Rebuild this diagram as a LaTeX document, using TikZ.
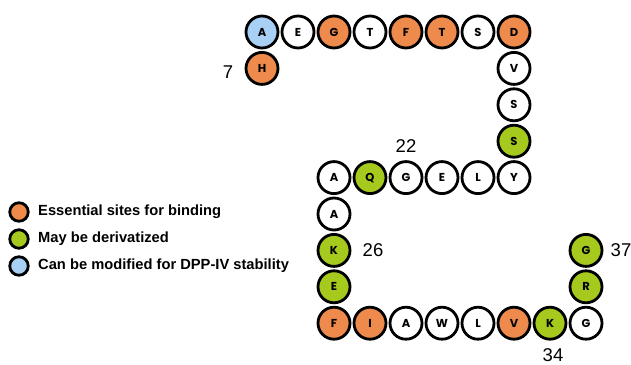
\documentclass[tikz,border=0pt]{standalone}
\usepackage{fontspec}
\setmainfont{Liberation Sans}
\newfontfamily\resfont{Poppins}
\definecolor{bindorange}{RGB}{238,138,76}
\definecolor{derivgreen}{RGB}{166,201,30}
\definecolor{dppblue}{RGB}{168,208,245}
\begin{document}
\begin{tikzpicture}[x=1pt,y=-1pt,
  res/.style={circle,draw=black,line width=2.8pt,minimum size=32pt,inner sep=0pt,
    font=\resfont\bfseries\fontsize{11.5}{11.5}\selectfont},
  keydot/.style={circle,draw=black,line width=2.8pt,minimum size=18.5pt,inner sep=0pt},
  keytext/.style={anchor=west,inner sep=0pt,font=\bfseries\fontsize{14.7}{16}\selectfont},
  posnum/.style={inner sep=0pt,font=\fontsize{18.5}{20}\selectfont}]
\useasboundingbox (0,0) rectangle (631,364);
\fill[white] (0,0) rectangle (631,364);

% peptide chain, residues 7--37, laid out on a grid
\foreach \n/\c/\r/\l/\f in {
  7/0/1/H/bindorange, 8/0/0/A/dppblue, 9/1/0/E/white, 10/2/0/G/bindorange,
  11/3/0/T/white, 12/4/0/F/bindorange, 13/5/0/T/bindorange, 14/6/0/S/white,
  15/7/0/D/bindorange, 16/7/1/V/white, 17/7/2/S/white, 18/7/3/S/derivgreen,
  19/7/4/Y/white, 20/6/4/L/white, 21/5/4/E/white, 22/4/4/G/white,
  23/3/4/Q/derivgreen, 24/2/4/A/white, 25/2/5/A/white, 26/2/6/K/derivgreen,
  27/2/7/E/derivgreen, 28/2/8/F/bindorange, 29/3/8/I/bindorange, 30/4/8/A/white,
  31/5/8/W/white, 32/6/8/L/white, 33/7/8/V/bindorange, 34/8/8/K/derivgreen,
  35/9/8/G/white, 36/9/7/R/derivgreen, 37/9/6/G/derivgreen}
  \node[res,fill=\f] (r\n) at ({262+36*\c},{32+36.4*\r}) {\l};

% residue numbers
\node[posnum] (n7)  at (228,72)  {7};
\node[posnum] (n22) at (406,146) {22};
\node[posnum] (n26) at (373,250) {26};
\node[posnum] (n37) at (621,250) {37};
\node[posnum] (n34) at (553,355) {34};

% legend
\node[keydot,fill=bindorange] (k1) at (19,212) {};
\node[keydot,fill=derivgreen] (k2) at (19,239) {};
\node[keydot,fill=dppblue]    (k3) at (19,266) {};
\node[keytext] (t1) at (38,212) {Essential sites for binding};
\node[keytext] (t2) at (38,239) {May be derivatized};
\node[keytext] (t3) at (38,266) {Can be modified for DPP-IV stability};
\end{tikzpicture}
\end{document}
